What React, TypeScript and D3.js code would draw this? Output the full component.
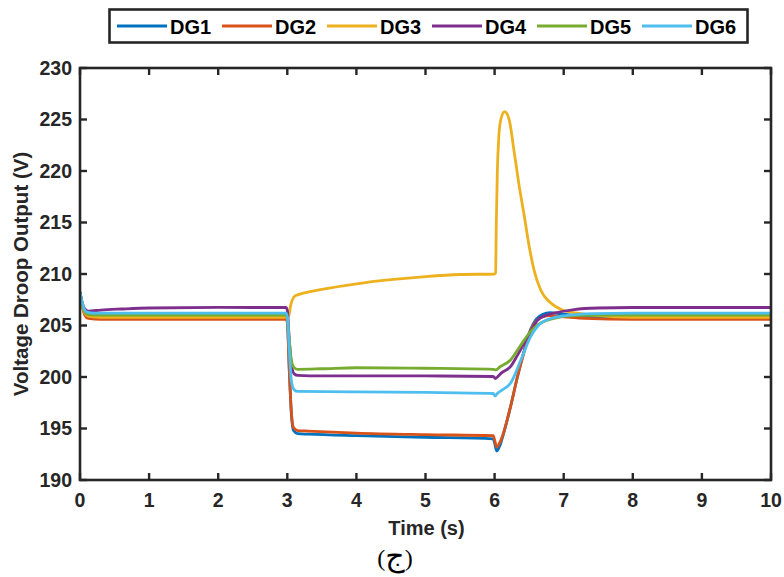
import React from "react";
import * as d3 from "d3";

type Pt = [number, number];

const seriesNames = ["DG1", "DG2", "DG3", "DG4", "DG5", "DG6"];
const seriesColors = ["#0072BD", "#D95319", "#EDB120", "#7E2F8E", "#77AC30", "#4DBEEE"];

const xTicks = [0, 1, 2, 3, 4, 5, 6, 7, 8, 9, 10];
const yTicks = [190, 195, 200, 205, 210, 215, 220, 225, 230];

const dg1: Pt[] = [
  [0, 208.2], [0.03, 207.1], [0.07, 206.2], [0.12, 205.9], [0.3, 205.8], [1, 205.8], [2, 205.8],
  [2.98, 205.8], [3.0, 205.5], [3.03, 200.5], [3.06, 196.3], [3.09, 194.8], [3.15, 194.5], [3.3, 194.45],
  [4, 194.3], [5, 194.15], [5.98, 194.0], [6.0, 193.6], [6.03, 192.8], [6.08, 193.4], [6.13, 194.5],
  [6.23, 197.1], [6.33, 200.0], [6.43, 202.6], [6.52, 204.6], [6.6, 205.6], [6.7, 206.1], [6.8, 206.25],
  [7.0, 206.1], [7.3, 205.9], [8, 205.8], [10, 205.8],
];

const dg2: Pt[] = [
  [0, 208.2], [0.03, 207.0], [0.07, 206.0], [0.12, 205.7], [0.3, 205.6], [1, 205.6], [2, 205.6],
  [2.98, 205.6], [3.0, 205.3], [3.03, 200.5], [3.06, 196.5], [3.09, 195.1], [3.15, 194.8], [3.3, 194.75],
  [4, 194.55], [5, 194.4], [5.98, 194.3], [6.0, 193.9], [6.03, 193.2], [6.08, 193.7], [6.13, 194.6],
  [6.23, 197.1], [6.33, 200.0], [6.43, 202.5], [6.52, 204.5], [6.6, 205.4], [6.7, 205.85], [6.8, 205.95],
  [7.0, 205.85], [7.3, 205.7], [8, 205.6], [10, 205.6],
];

const dg3: Pt[] = [
  [0, 208.2], [0.03, 207.1], [0.07, 206.2], [0.12, 205.9], [0.3, 205.8], [1, 205.8], [2, 205.8],
  [2.98, 205.8], [3.02, 205.9], [3.05, 207.0], [3.08, 207.6], [3.12, 207.9], [3.16, 208.0], [3.5, 208.5],
  [4, 209.05], [4.5, 209.45], [5, 209.75], [5.5, 209.95], [6.0, 210.0], [6.014, 210.1], [6.025, 215.0],
  [6.04, 220.0], [6.06, 223.2], [6.09, 225.0], [6.145, 225.76], [6.21, 225.0], [6.28, 222.0],
  [6.35, 218.8], [6.43, 215.6], [6.5, 212.7], [6.57, 210.4], [6.67, 208.4], [6.81, 207.2], [6.98, 206.5],
  [7.2, 206.2], [7.5, 205.95], [8, 205.8], [10, 205.8],
];

const dg4: Pt[] = [
  [0, 208.2], [0.03, 207.3], [0.07, 206.6], [0.12, 206.4], [0.3, 206.5], [0.6, 206.6], [1, 206.7],
  [2, 206.75], [2.98, 206.75], [3.0, 206.5], [3.03, 203.5], [3.06, 201.2], [3.1, 200.3], [3.15, 200.15],
  [3.5, 200.1], [4, 200.1], [5, 200.1], [5.98, 200.05], [6.01, 199.85], [6.04, 200.0], [6.1, 200.4],
  [6.23, 201.0], [6.33, 202.1], [6.43, 203.3], [6.52, 204.4], [6.62, 205.5], [6.75, 206.0], [6.86, 206.2],
  [7.15, 206.55], [7.5, 206.7], [8, 206.75], [10, 206.75],
];

const dg5: Pt[] = [
  [0, 208.2], [0.03, 207.2], [0.07, 206.3], [0.12, 206.05], [0.3, 206.0], [1, 206.0], [2, 206.0],
  [2.98, 206.0], [3.0, 205.7], [3.03, 203.5], [3.06, 201.6], [3.1, 200.9], [3.15, 200.75], [3.5, 200.8],
  [4, 200.9], [5, 200.85], [5.98, 200.75], [6.02, 200.7], [6.08, 201.0], [6.23, 201.65], [6.33, 202.6],
  [6.43, 203.6], [6.52, 204.4], [6.62, 205.05], [6.75, 205.5], [6.86, 205.7], [7.15, 205.95], [7.5, 206.0],
  [10, 206.0],
];

const dg6: Pt[] = [
  [0, 208.2], [0.03, 207.3], [0.06, 206.6], [0.1, 206.3], [0.2, 206.2], [1, 206.2], [2, 206.2],
  [2.98, 206.2], [3.0, 205.9], [3.03, 202.5], [3.06, 199.6], [3.1, 198.75], [3.15, 198.6], [4, 198.55],
  [5, 198.5], [5.98, 198.4], [6.01, 198.15], [6.04, 198.4], [6.1, 198.7], [6.23, 199.4], [6.38, 201.65],
  [6.52, 203.9], [6.62, 204.9], [6.71, 205.4], [6.96, 205.9], [7.44, 206.15], [8, 206.2], [10, 206.2],
];

const seriesData = [dg1, dg2, dg3, dg4, dg5, dg6];

const W = 784;
const H = 577;
const left = 80;
const right = 771;
const top = 68;
const bottom = 480;
const axisColor = "#262626";
const font = "'Liberation Sans', Arial, Helvetica, sans-serif";

export default function App() {
  const x = d3.scaleLinear().domain([0, 10]).range([left, right]);
  const y = d3.scaleLinear().domain([190, 230]).range([bottom, top]);
  const line = d3
    .line<Pt>()
    .x((d) => x(d[0]))
    .y((d) => y(d[1]))
    .curve(d3.curveMonotoneX);
  const tickLen = 7;

  const legendX0 = 117;
  const legendStep = 105;

  return (
    <svg
      width={W}
      height={H}
      style={{ position: "absolute", left: 0, top: 0, background: "#fff" }}
    >
      <rect x={0} y={0} width={W} height={H} fill="#fff" />
      <defs>
        <clipPath id="plot">
          <rect x={left} y={top} width={right - left} height={bottom - top} />
        </clipPath>
      </defs>

      <g clipPath="url(#plot)">
        {seriesData.map((d, i) => (
          <path
            key={seriesNames[i]}
            d={line(d) || ""}
            fill="none"
            stroke={seriesColors[i]}
            strokeWidth={2.8}
            strokeLinejoin="round"
            strokeLinecap="round"
          />
        ))}
      </g>

      {/* axes box */}
      <rect
        x={left}
        y={top}
        width={right - left}
        height={bottom - top}
        fill="none"
        stroke={axisColor}
        strokeWidth={2.6}
      />
      {xTicks.map((t) => (
        <g key={"xt" + t}>
          <line x1={x(t)} x2={x(t)} y1={bottom} y2={bottom - tickLen} stroke={axisColor} strokeWidth={2.4} />
          <line x1={x(t)} x2={x(t)} y1={top} y2={top + tickLen} stroke={axisColor} strokeWidth={2.4} />
          <text
            x={x(t)}
            y={507}
            textAnchor="middle"
            fontFamily={font}
            fontWeight="bold"
            fontSize={19.5}
            fill={axisColor}
          >
            {t}
          </text>
        </g>
      ))}
      {yTicks.map((t) => (
        <g key={"yt" + t}>
          <line x1={left} x2={left + tickLen} y1={y(t)} y2={y(t)} stroke={axisColor} strokeWidth={2.4} />
          <line x1={right} x2={right - tickLen} y1={y(t)} y2={y(t)} stroke={axisColor} strokeWidth={2.4} />
          <text
            x={72}
            y={y(t) + 6.7}
            textAnchor="end"
            fontFamily={font}
            fontWeight="bold"
            fontSize={19.5}
            fill={axisColor}
          >
            {t}
          </text>
        </g>
      ))}

      <text
        x={(left + right) / 2 + 1}
        y={535}
        textAnchor="middle"
        fontFamily={font}
        fontWeight="bold"
        fontSize={20}
        fill={axisColor}
      >
        Time (s)
      </text>
      <text
        transform={`translate(28, ${(top + bottom) / 2}) rotate(-90)`}
        textAnchor="middle"
        fontFamily={font}
        fontWeight="bold"
        fontSize={20.5}
        fill={axisColor}
      >
        Voltage Droop Output (V)
      </text>

      <text
        x={395}
        y={566}
        textAnchor="middle"
        fontFamily="'Liberation Serif', 'DejaVu Serif', 'DejaVu Sans', serif"
        fontSize={24}
        fill="#000"
      >
        (<tspan fontSize={30} fontFamily="'DejaVu Sans', serif">ج</tspan>)
      </text>

      {/* legend */}
      <rect x={109.5} y={9.5} width={638} height={33} fill="#fff" stroke={axisColor} strokeWidth={2.6} />
      {seriesNames.map((n, i) => {
        const lx = legendX0 + i * legendStep;
        return (
          <g key={"lg" + n}>
            <line x1={lx} x2={lx + 50} y1={26} y2={26} stroke={seriesColors[i]} strokeWidth={3} />
            <text
              x={lx + 53}
              y={34}
              fontFamily={font}
              fontWeight="bold"
              fontSize={20}
              fill="#000"
            >
              {n}
            </text>
          </g>
        );
      })}
    </svg>
  );
}
